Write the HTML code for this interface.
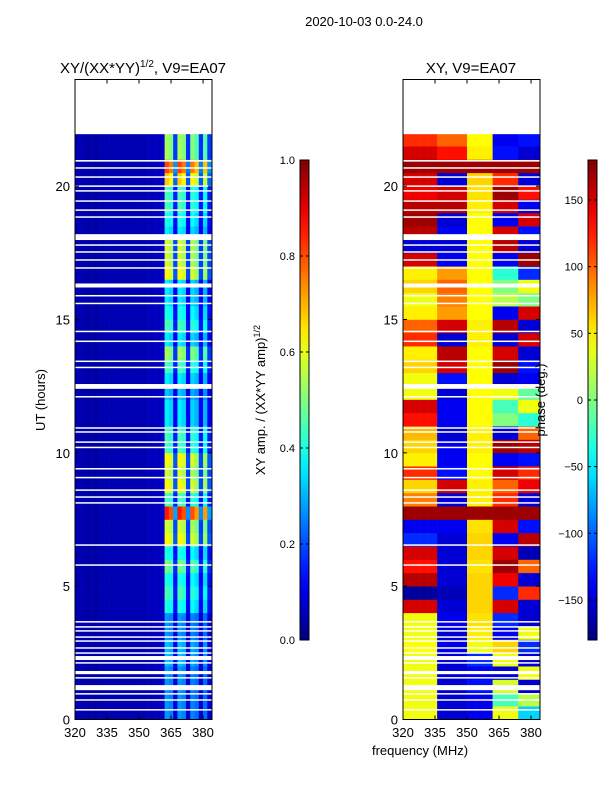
<!DOCTYPE html>
<html><head><meta charset="utf-8"><style>
body{margin:0;background:#fff;width:600px;height:800px;overflow:hidden}
svg text{font-family:"Liberation Sans",sans-serif;fill:#000}
</style></head><body>
<svg id="c" width="600" height="800"></svg>
<script>
// data
const freqs = Array.from({length:32},(_,i)=>320+2*i); // channel start MHz
const hours = Array.from({length:44},(_,i)=>i*0.5);   // row start hours
const colProfile = [0.05,0.05,0.04,0.04,0.04,0.04,0.05,0.05,0.05,0.05,0.05,0.05,0.05,0.05,0.05,0.05,0.05,0.06,0.06,0.06,0.07,0.45,0.42,0.15,0.45,0.42,0.14,0.42,0.38,0.14,0.38,0.15];
const rowGain = [0.6,0.6,0.6,0.6,0.7,0.7,0.6,0.6,0.9,1.0,0.9,1.1,0.9,1.4,1.3,1.9,1.0,1.4,1.3,1.4,1.0,1.0,0.8,0.8,0.7,0.8,1.0,1.2,0.8,1.0,0.9,0.8,0.8,1.4,1.3,1.3,0.8,0.9,1.0,1.0,1.5,1.8,1.2,1.2];
const phaseA = [40,40,40,40,40,45,40,40,150,-170,160,130,150,-120,-140,170,90,60,120,50,60,70,130,150,40,40,60,50,120,100,50,40,60,50,150,-150,160,170,160,140,150,170,150,120];
const phaseB = [-150,-150,-150,-150,-150,-140,-150,-140,-150,-160,-150,-150,-150,-150,-140,170,-150,150,-130,-140,-140,-150,-140,-140,-150,-130,150,160,-150,150,80,90,100,80,-140,-150,-140,-150,160,150,-150,170,130,100];
const phaseM = [-140,-140,-130,-140,-120,40,50,55,60,60,60,55,60,60,55,170,50,50,45,45,50,50,45,45,45,45,45,45,50,50,45,45,45,45,45,45,45,45,50,55,60,170,50,45];
const phaseR1 = [40,-20,30,-150,40,60,-140,-120,150,-120,140,170,150,-140,150,170,120,100,150,-140,170,-150,0,-20,40,-150,170,150,-150,160,-140,20,0,-30,-140,160,150,-140,150,170,120,170,-130,-140];
const phaseR2 = [-60,20,-150,40,-150,-120,40,-150,-150,120,-150,100,-160,160,-130,170,-150,140,120,-130,160,100,-30,40,-10,-140,-130,-150,150,-150,150,0,40,-120,170,-150,-130,150,-140,130,-150,170,-150,-130];
const gaps = [[21.95,24],[20.92,20.98],[20.66,20.71],[20.32,20.37],[19.98,20.03],[19.8,19.85],[19.42,19.47],[19.08,19.13],[18.82,18.87],[17.98,18.2],[17.77,17.82],[17.51,17.56],[17.21,17.26],[16.91,16.96],[16.2,16.35],[15.87,15.92],[15.58,15.63],[14.53,14.58],[14.16,14.21],[13.41,13.46],[13.18,13.23],[12.4,12.58],[12.08,12.13],[10.91,10.96],[10.76,10.81],[10.38,10.43],[10.18,10.23],[9.38,9.43],[9.05,9.1],[8.58,8.63],[8.32,8.37],[8.1,8.15],[6.52,6.57],[5.77,5.82],[3.64,3.69],[3.45,3.5],[3.3,3.35],[3.07,3.12],[2.92,2.97],[2.66,2.71],[2.47,2.52],[2.23,2.38],[2.1,2.15],[1.7,1.82],[1.54,1.59],[1.1,1.29],[0.94,0.99],[0.71,0.76],[0.34,0.39]];
const xTicks = [320,335,350,365,380];
const yTicks = [0,5,10,15,20];
const ampTicks = [0.0,0.2,0.4,0.6,0.8,1.0];
const phTicks = [-150,-100,-50,0,50,100,150];

const NS="http://www.w3.org/2000/svg";
const svg=document.getElementById('c');
function mk(t,a,p){const e=document.createElementNS(NS,t);for(const k in a)e.setAttribute(k,a[k]);(p||svg).appendChild(e);return e;}
function jet(v){v=Math.max(0,Math.min(1,v));
 const r=Math.max(0,Math.min(1,1.5-Math.abs(4*v-3))),g=Math.max(0,Math.min(1,1.5-Math.abs(4*v-2))),b=Math.max(0,Math.min(1,1.5-Math.abs(4*v-1)));
 return `rgb(${Math.round(r*255)},${Math.round(g*255)},${Math.round(b*255)})`;}
const T=79.5,B=719.5;
const yS=h=>B-(h/24)*(B-T);
function xS(x0,f){return x0+(f-320)/(384.2-320)*137;}
function phaseAt(r,c){if(c<8)return phaseA[r];if(c<15)return phaseB[r];if(c<21)return phaseM[r];if(c<27)return phaseR1[r];return phaseR2[r];}

function panel(x0,kind,name){
 const g=mk('g',{});
 
 
 for(let r=0;r<hours.length;r++){for(let c=0;c<freqs.length;c++){
  const x1=xS(x0,freqs[c]),x2=xS(x0,Math.min(384.2,freqs[c]+2));
  const y1=yS(hours[r]+0.5),y2=yS(hours[r]);
  let col;
  if(kind==='amp')col=jet(c<21?colProfile[c]:Math.min(0.95,colProfile[c]*rowGain[r]));
  else col=jet((phaseAt(r,c)+180)/360);
  const e=mk('rect',{x:x1,y:y1,width:x2-x1+0.3,height:y2-y1+0.3,fill:col},g);
  
  
 }}
 for(const gp of gaps){const e=mk('rect',{x:x0,y:yS(gp[1]),width:137,height:Math.max(1.5,yS(gp[0])-yS(gp[1])),fill:'#fff'},g);
  
  }
 mk('rect',{x:x0,y:T,width:137,height:B-T,fill:'none',stroke:'#000','stroke-width':1},g);
 for(const t of xTicks){const x=xS(x0,t);
  mk('line',{x1:x,x2:x,y1:B,y2:B-4,stroke:'#000'},g);mk('line',{x1:x,x2:x,y1:T,y2:T+4,stroke:'#000'},g);
  const tx=mk('text',{x:x,y:737,'font-size':13,'text-anchor':'middle'},g);tx.textContent=t;
  }
 for(const t of yTicks){const y=yS(t);
  mk('line',{x1:x0,x2:x0+4,y1:y,y2:y,stroke:'#000'},g);mk('line',{x1:x0+137,x2:x0+133,y1:y,y2:y,stroke:'#000'},g);
  const tx=mk('text',{x:x0-5,y:y+5,'font-size':13,'text-anchor':'end'},g);tx.textContent=t;
  }
}
panel(75,'amp','amplitude-heatmap');
panel(403,'phase','phase-heatmap');

function cbar(x,ticks,vmin,vmax,name,fmt){
 const g=mk('g',{});
 
 
 const defs=mk('defs',{},g);const lg=mk('linearGradient',{id:name+'g',x1:0,y1:1,x2:0,y2:0},defs);
 for(let i=0;i<=20;i++)mk('stop',{offset:i/20,'stop-color':jet(i/20)},lg);
 mk('rect',{x:x,y:160,width:9,height:480,fill:`url(#${name}g)`,stroke:'#000','stroke-width':1},g);
 for(const t of ticks){const y=640-(t-vmin)/(vmax-vmin)*480;
  mk('line',{x1:x,x2:x+3,y1:y,y2:y,stroke:'#000'},g);mk('line',{x1:x+9,x2:x+6,y1:y,y2:y,stroke:'#000'},g);
  const tx=mk('text',{x:x-5,y:y+4,'font-size':11,'text-anchor':'end'},g);tx.textContent=fmt(t);
  }
}
cbar(300,ampTicks,0,1,'amp-colorbar',t=>t.toFixed(1));
cbar(588,phTicks,-180,180,'phase-colorbar',t=>t<0?'\u2212'+(-t):''+t);
</script>
<svg width="600" height="800" style="position:absolute;left:0;top:0">
<text x="364" y="26" font-size="13" text-anchor="middle">2020-10-03 0.0-24.0</text>
<text x="143" y="73" font-size="15" text-anchor="middle">XY/(XX*YY)<tspan dy="-6" font-size="10">1/2</tspan><tspan dy="6">, V9=EA07</tspan></text>
<text x="471" y="73" font-size="15" text-anchor="middle">XY, V9=EA07</text>
<text x="420" y="755" font-size="13" text-anchor="middle">frequency (MHz)</text>
<text transform="translate(45,400) rotate(-90)" font-size="13" text-anchor="middle">UT (hours)</text>
<text transform="translate(265,400) rotate(-90)" font-size="13" text-anchor="middle">XY amp. / (XX*YY amp)<tspan dy="-5" font-size="9">1/2</tspan></text>
<text transform="translate(545,400) rotate(-90)" font-size="13" text-anchor="middle">phase (deg.)</text>
</svg>
</body></html>
